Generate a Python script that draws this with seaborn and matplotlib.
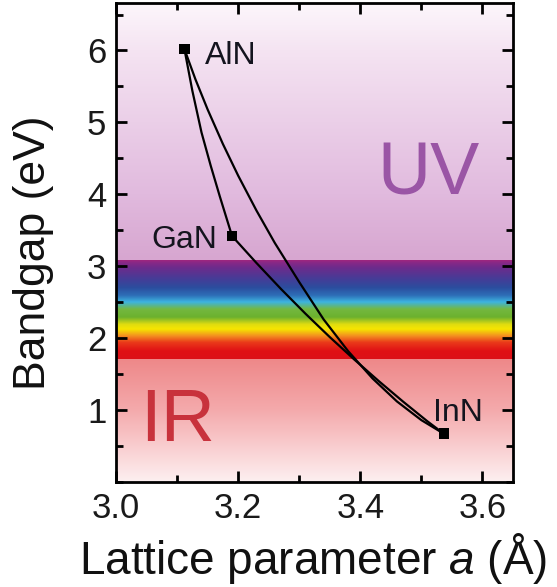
import numpy as np
import pandas as pd
import matplotlib
matplotlib.use("Agg")
import matplotlib.pyplot as plt
import matplotlib.colors as mcolors
from matplotlib.ticker import MultipleLocator
import seaborn as sns

# ---- data ----
compounds = ["AlN", "GaN", "InN"]
lattice_a = [3.112, 3.190, 3.537]
bandgap = [6.02, 3.42, 0.67]

# AlGaN alloy curve (AlN -> GaN)
algan_a = [3.112, 3.125, 3.140, 3.155, 3.170, 3.190]
algan_e = [6.02, 5.44, 4.86, 4.40, 3.97, 3.42]
# InGaN alloy curve (GaN -> InN)
ingan_a = [3.190, 3.230, 3.270, 3.310, 3.350, 3.390, 3.430, 3.470, 3.510, 3.537]
ingan_e = [3.42, 3.045, 2.685, 2.342, 2.015, 1.704, 1.405, 1.118, 0.843, 0.67]
# InAlN alloy curve (AlN -> InN)
inaln_a = [3.112, 3.130, 3.150, 3.175, 3.200, 3.230, 3.260, 3.300, 3.340, 3.380, 3.420, 3.460, 3.500, 3.537]
inaln_e = [6.02, 5.60, 5.18, 4.70, 4.26, 3.774, 3.324, 2.78, 2.26, 1.82, 1.44, 1.12, 0.86, 0.67]

# background regions: (energy stops, colours)
uv_stops = [3.08, 4.0, 5.0, 6.0, 6.7]
uv_colors = ["#d7a6d0", "#e1bade", "#ebcfe8", "#f5e4f2", "#fdf8fc"]
vis_stops = [1.71, 1.82, 1.94, 2.03, 2.125, 2.19, 2.29, 2.40, 2.50, 2.59, 2.70, 2.84, 2.98, 3.05, 3.08]
vis_colors = ["#dc1018", "#e01015", "#ea3a1a", "#f39020", "#f6e600", "#e0dc10", "#6cb12e",
              "#74b840", "#3db4e0", "#2e6fb8", "#2b4d9e", "#4a3a96", "#6e2b8b", "#8a2886", "#a0267e"]
ir_stops = [0.0, 0.5, 1.0, 1.71]
ir_colors = ["#fdf0f1", "#f9cdcf", "#f4aaac", "#ee8889"]

xticks = [3.0, 3.2, 3.4, 3.6]
xticklabels = ["3.0", "3.2", "3.4", "3.6"]
yticks = [1, 2, 3, 4, 5, 6]
yticklabels = ["1", "2", "3", "4", "5", "6"]

# ---- figure ----
sns.set_theme(style="ticks")
plt.rcParams["font.family"] = ["Liberation Sans", "DejaVu Sans"]
plt.rcParams["mathtext.fontset"] = "custom"
plt.rcParams["mathtext.it"] = "Liberation Sans:italic"
plt.rcParams["mathtext.rm"] = "Liberation Sans"

fig = plt.figure(figsize=(5.57, 5.87), dpi=100)
ax = fig.add_axes([116 / 557, 1 - 482 / 587, 397 / 557, 479 / 587])

XMIN, XMAX = 3.0, 3.65
YMIN, YMAX = 0.0, 6.66


def gradient(stops, colors, lo, hi, n=400):
    e = np.linspace(lo, hi, n)
    rgb = np.array([mcolors.to_rgb(c) for c in colors])
    img = np.stack([np.interp(e, stops, rgb[:, k]) for k in range(3)], axis=-1)
    return img[:, None, :]


for stops, cols, lo, hi in [(ir_stops, ir_colors, YMIN, 1.71),
                            (vis_stops, vis_colors, 1.71, 3.08),
                            (uv_stops, uv_colors, 3.08, YMAX)]:
    ax.imshow(gradient(stops, cols, lo, hi), extent=[XMIN, XMAX, lo, hi],
              origin="lower", aspect="auto", interpolation="bilinear", zorder=0)

for xs, ys in [(algan_a, algan_e), (ingan_a, ingan_e), (inaln_a, inaln_e)]:
    sns.lineplot(x=xs, y=ys, sort=False, color="black", linewidth=1.6, ax=ax, zorder=3)

df = pd.DataFrame({"a": lattice_a, "Eg": bandgap, "name": compounds})
sns.scatterplot(data=df, x="a", y="Eg", marker="s", s=60, color="black",
                edgecolor="none", ax=ax, zorder=4)

txt_col = "#14141e"
ax.text(3.146, 5.81, "AlN", fontsize=23, color=txt_col, ha="left", va="baseline", zorder=5)
ax.text(3.166, 3.26, "GaN", fontsize=23, color=txt_col, ha="right", va="baseline", zorder=5)
ax.text(3.519, 0.85, "InN", fontsize=23, color=txt_col, ha="left", va="baseline", zorder=5)
ax.text(3.512, 4.0, "UV", fontsize=53, color="#9a55a5", ha="center", va="baseline", zorder=2)
ax.text(3.040, 0.57, "IR", fontsize=54, color="#c8323c", ha="left", va="baseline", zorder=2)

ax.set_xlim(XMIN, XMAX)
ax.set_ylim(YMIN, YMAX)
ax.set_xticks(xticks)
ax.set_xticklabels(xticklabels)
ax.set_yticks(yticks)
ax.set_yticklabels(yticklabels)
ax.xaxis.set_minor_locator(MultipleLocator(0.1))
ax.yaxis.set_minor_locator(MultipleLocator(0.5))
ax.tick_params(which="both", direction="in", top=True, right=True, width=2, color="black",
               labelsize=25, labelcolor="#1a1a1a")
ax.tick_params(which="major", length=8)
ax.tick_params(which="minor", length=5)
ax.tick_params(axis="x", pad=7)
ax.tick_params(axis="y", pad=7)
for s in ax.spines.values():
    s.set_linewidth(2)
    s.set_color("black")

ax.set_xlabel(r"Lattice parameter $a$ (Å)", fontsize=33, color="#111111")
ax.set_ylabel("Bandgap (eV)", fontsize=32, color="#111111")
ax.xaxis.set_label_coords(0.497, -0.103)
ax.yaxis.set_label_coords(-0.155, 0.478)

fig.savefig("out.png", dpi=100)
